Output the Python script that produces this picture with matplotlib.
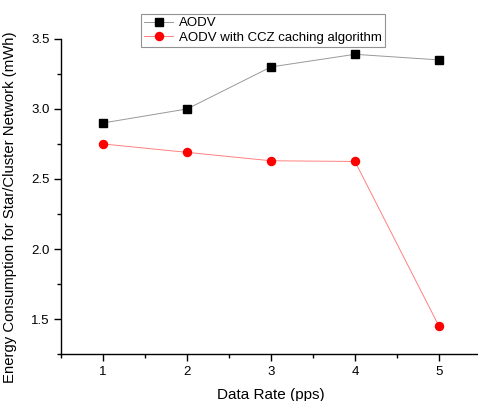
import matplotlib
matplotlib.use("Agg")
import matplotlib.pyplot as plt
from matplotlib.ticker import MultipleLocator

plt.rcParams['font.family'] = ['Liberation Sans', 'DejaVu Sans']

rate = [1, 2, 3, 4, 5]
aodv = [2.90, 3.00, 3.30, 3.39, 3.35]
aodv_ccz = [2.75, 2.69, 2.63, 2.625, 1.45]

fig = plt.figure(figsize=(4.78, 4.01), dpi=100)
ax = fig.add_axes([0.128, 0.117, 0.878, 0.786])

ax.plot(rate, aodv, color='#999999', lw=0.7, marker='s', ms=5.2,
        mfc='black', mec='black', label='AODV')
ax.plot(rate, aodv_ccz, color='#ff8080', lw=0.7, marker='o', ms=5.8,
        mfc='red', mec='red', label='AODV with CCZ caching algorithm')

ax.set_xlim(0.5, 5.5)
ax.set_ylim(1.25, 3.5)
ax.xaxis.set_major_locator(MultipleLocator(1))
ax.xaxis.set_minor_locator(MultipleLocator(0.5))
ax.yaxis.set_major_locator(MultipleLocator(0.5))
ax.yaxis.set_minor_locator(MultipleLocator(0.25))
ax.yaxis.set_major_formatter(matplotlib.ticker.FormatStrFormatter('%.1f'))

for s in ['top', 'right']:
    ax.spines[s].set_visible(False)
for s in ['left', 'bottom']:
    ax.spines[s].set_linewidth(1.0)
ax.tick_params(which='major', direction='out', length=5, width=1, labelsize=9.5)
ax.tick_params(which='minor', direction='out', length=3, width=1)

ax.set_xlabel('Data Rate (pps)', fontsize=11, labelpad=7)
ax.set_ylabel('Energy Consumption for Star/Cluster Network (mWh)', fontsize=10.7)
ax.yaxis.set_label_coords(-0.105, 0.465)

leg = ax.legend(loc='upper left', bbox_to_anchor=(0.19, 1.08), fontsize=9.5,
                frameon=True, fancybox=False, handlelength=2.2, handletextpad=0.4,
                borderpad=0.25, labelspacing=0.2, borderaxespad=0)
leg.get_frame().set_edgecolor('#777777')
leg.get_frame().set_linewidth(0.8)

fig.savefig('out.png', dpi=100)
